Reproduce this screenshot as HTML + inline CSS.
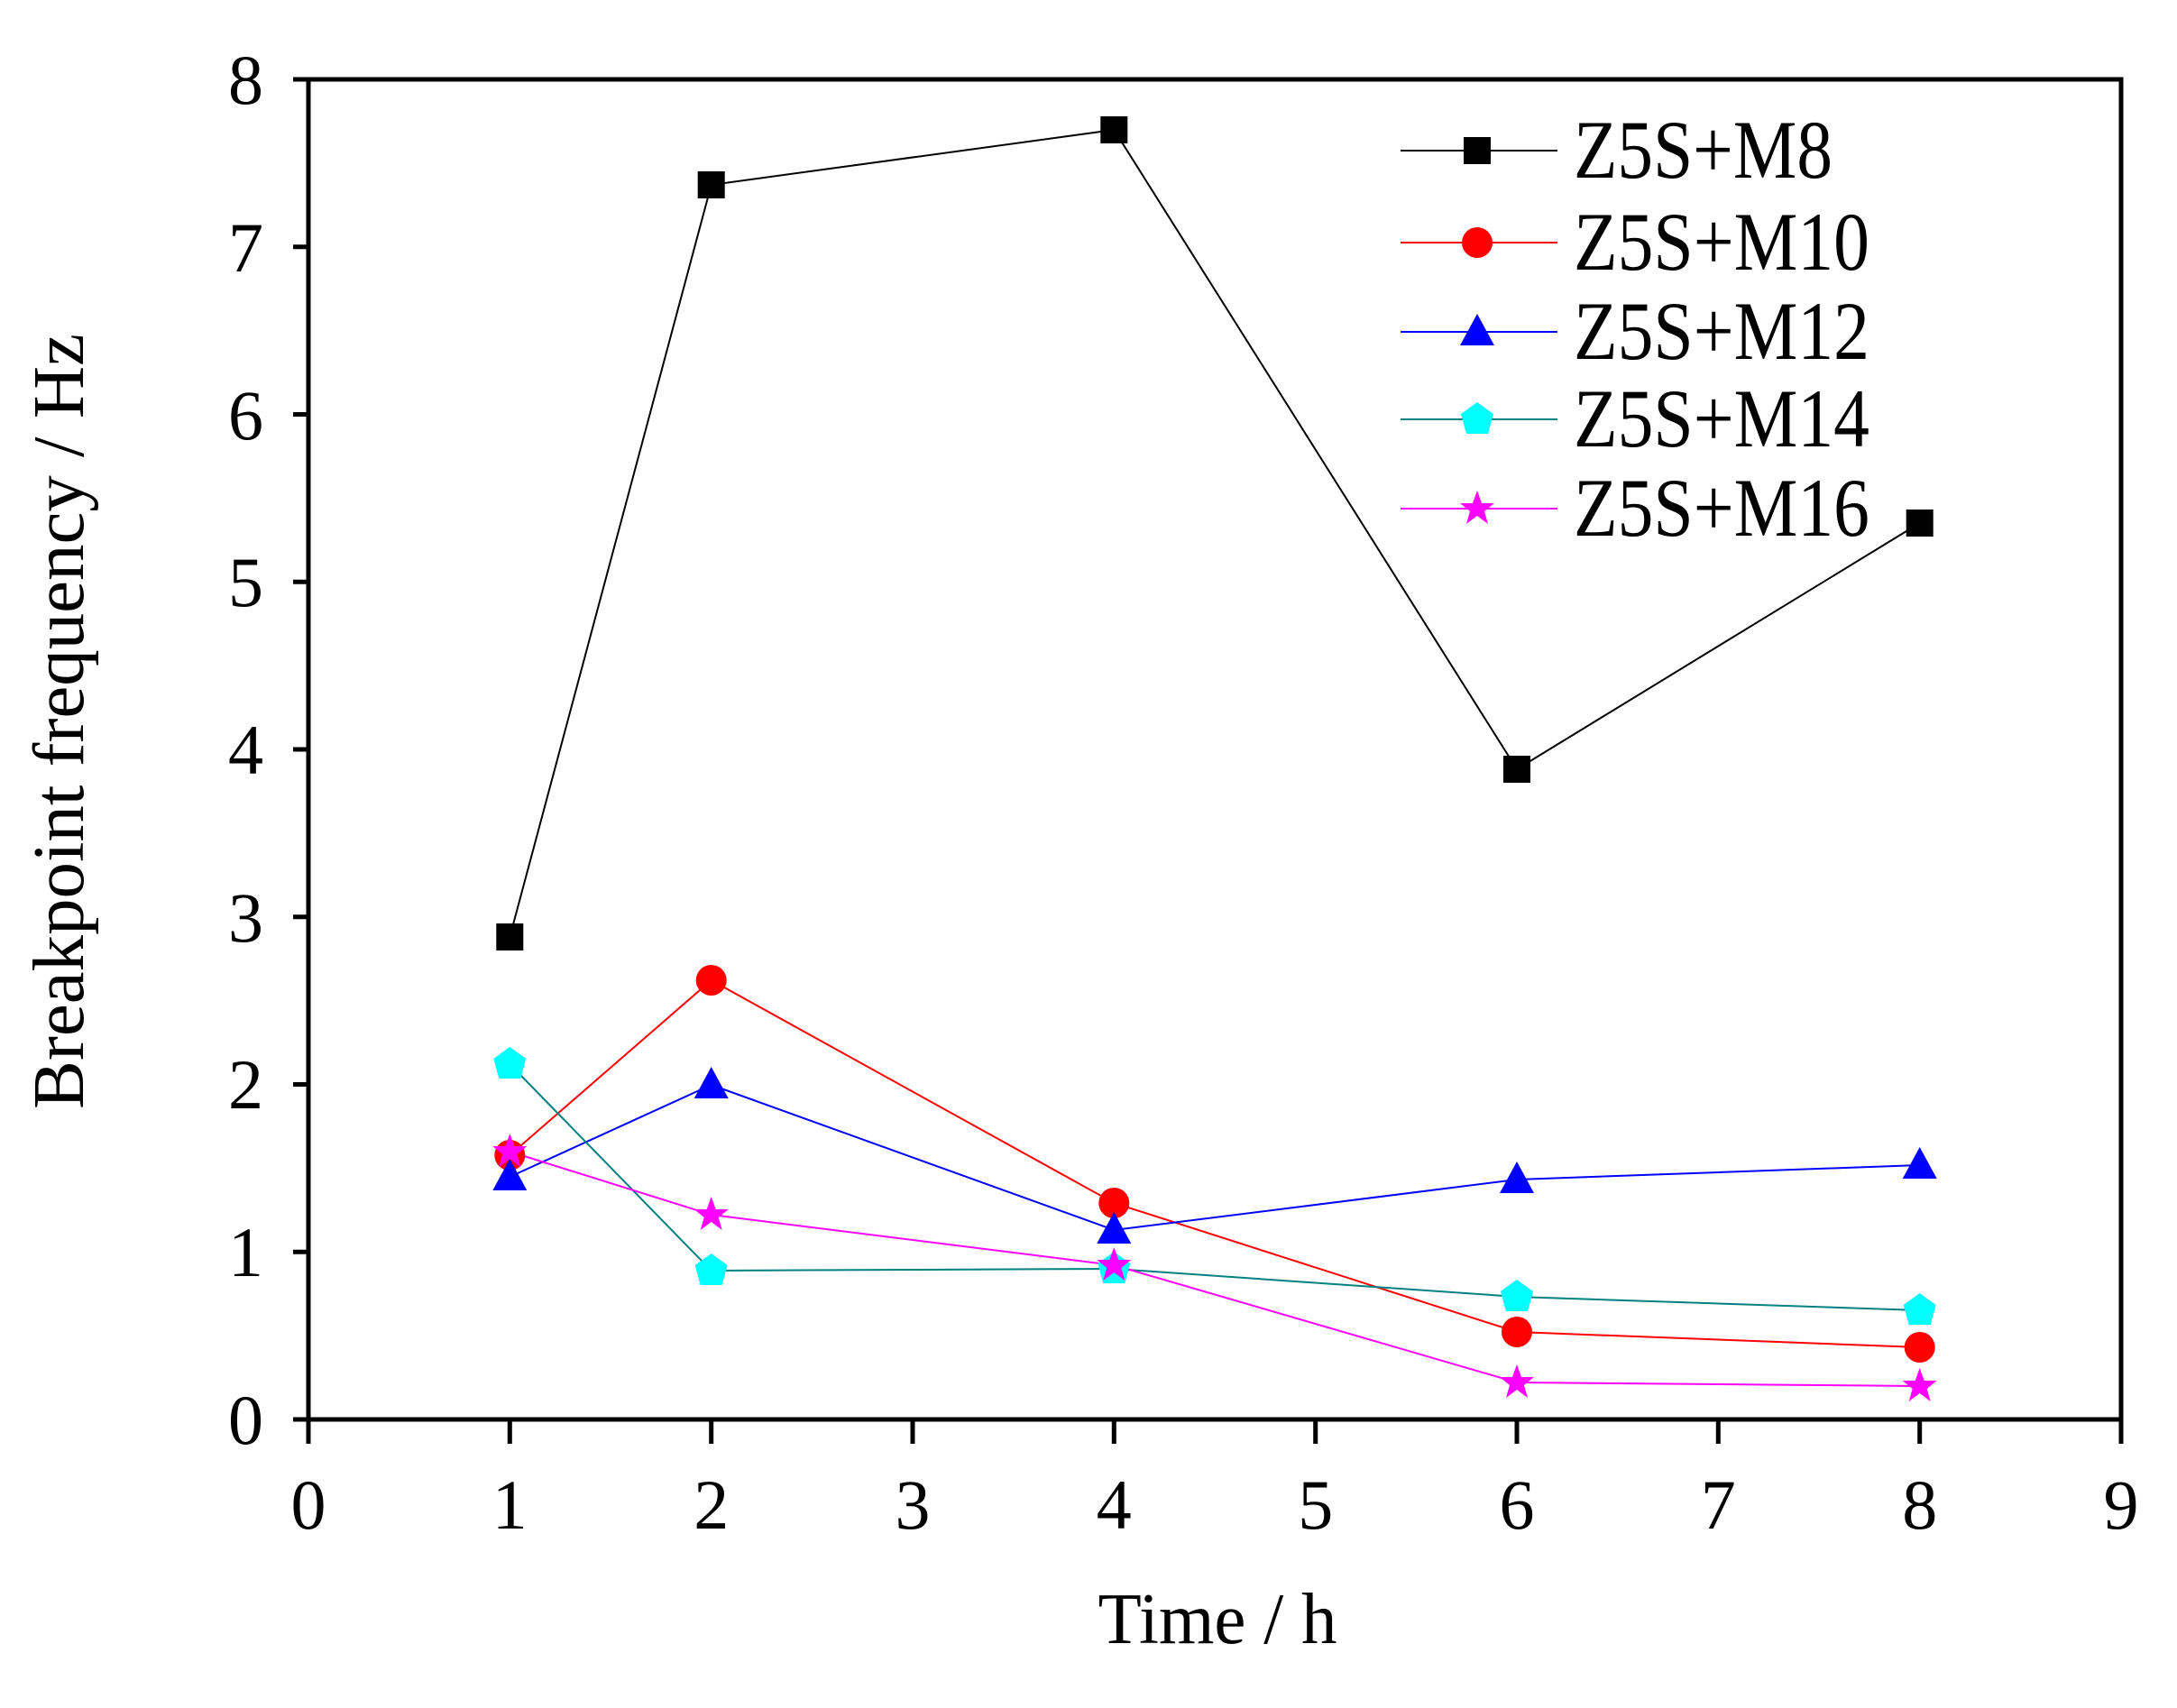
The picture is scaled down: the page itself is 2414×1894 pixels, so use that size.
<!DOCTYPE html>
<html><head><meta charset="utf-8"><style>html,body{margin:0;padding:0;background:#fff}svg{display:block}</style></head>
<body>
<svg width="2414" height="1894" viewBox="0 0 2414 1894" xmlns="http://www.w3.org/2000/svg" font-family="'Liberation Serif',serif">
<rect width="2414" height="1894" fill="#fff"/>
<rect x="342" y="88" width="2010" height="1486" fill="none" stroke="#000" stroke-width="5"/>
<g stroke="#000" stroke-width="5">
<line x1="325" y1="1574" x2="342" y2="1574"/><line x1="325" y1="1388.25" x2="342" y2="1388.25"/>
<line x1="325" y1="1202.5" x2="342" y2="1202.5"/><line x1="325" y1="1016.75" x2="342" y2="1016.75"/>
<line x1="325" y1="831" x2="342" y2="831"/><line x1="325" y1="645.25" x2="342" y2="645.25"/>
<line x1="325" y1="459.5" x2="342" y2="459.5"/><line x1="325" y1="273.75" x2="342" y2="273.75"/>
<line x1="325" y1="88" x2="342" y2="88"/>
<line x1="342" y1="1574" x2="342" y2="1601"/><line x1="565.3" y1="1574" x2="565.3" y2="1601"/>
<line x1="788.7" y1="1574" x2="788.7" y2="1601"/><line x1="1012" y1="1574" x2="1012" y2="1601"/>
<line x1="1235.3" y1="1574" x2="1235.3" y2="1601"/><line x1="1458.7" y1="1574" x2="1458.7" y2="1601"/>
<line x1="1682" y1="1574" x2="1682" y2="1601"/><line x1="1905.3" y1="1574" x2="1905.3" y2="1601"/>
<line x1="2128.7" y1="1574" x2="2128.7" y2="1601"/><line x1="2352" y1="1574" x2="2352" y2="1601"/>
</g>
<g font-size="78" text-anchor="end">
<text x="292" y="1601">0</text><text x="292" y="1415">1</text><text x="292" y="1229">2</text>
<text x="292" y="1044">3</text><text x="292" y="858">4</text><text x="292" y="672">5</text>
<text x="292" y="487">6</text><text x="292" y="301">7</text><text x="292" y="115">8</text>
</g>
<g font-size="78" text-anchor="middle">
<text x="342" y="1695">0</text><text x="565.3" y="1695">1</text><text x="788.7" y="1695">2</text>
<text x="1012" y="1695">3</text><text x="1235.3" y="1695">4</text><text x="1458.7" y="1695">5</text>
<text x="1682" y="1695">6</text><text x="1905.3" y="1695">7</text><text x="2128.7" y="1695">8</text>
<text x="2352" y="1695">9</text>
</g>
<text x="1350" y="1822" font-size="80" text-anchor="middle" textLength="265" lengthAdjust="spacingAndGlyphs">Time / h</text>
<text transform="translate(92,800) rotate(-90)" font-size="80" text-anchor="middle" textLength="860" lengthAdjust="spacingAndGlyphs">Breakpoint frequency / Hz</text>

<polyline fill="none" stroke="#000" stroke-width="2" points="565.3,1039 788.7,205 1235.3,144 1682,853 2128.7,580"/>
<polyline fill="none" stroke="#f00" stroke-width="2" points="565.3,1281 788.7,1087 1235.3,1334 1682,1477 2128.7,1494"/>
<polyline fill="none" stroke="#00f" stroke-width="2" points="565.3,1305 788.7,1203 1235.3,1364 1682,1308 2128.7,1292"/>
<polyline fill="none" stroke="#008080" stroke-width="2" points="565.3,1180 788.7,1409 1235.3,1407 1682,1438 2128.7,1453"/>
<polyline fill="none" stroke="#f0f" stroke-width="2" points="565.3,1277 788.7,1347 1235.3,1403 1682,1533 2128.7,1537"/>

<defs>
<rect id="sq" x="-15" y="-15" width="30" height="30" fill="#000"/>
<circle id="ci" r="17" fill="#f00"/>
<polygon id="tr" points="0,-20 19,15 -19,15" fill="#00f"/>
<polygon id="pe" points="0,-19 18,-6 12,16 -12,16 -18,-6" fill="#0ff"/>
<polygon id="st" points="0,-20 5,-6 19,-6 8,3 12,17 0,8 -12,17 -8,3 -19,-6 -5,-6" fill="#f0f"/>
</defs>
<use href="#sq" x="565.3" y="1039"/><use href="#sq" x="788.7" y="205"/><use href="#sq" x="1235.3" y="144"/><use href="#sq" x="1682" y="853"/><use href="#sq" x="2128.7" y="580"/>
<use href="#ci" x="565.3" y="1281"/><use href="#ci" x="788.7" y="1087"/><use href="#ci" x="1235.3" y="1334"/><use href="#ci" x="1682" y="1477"/><use href="#ci" x="2128.7" y="1494"/>
<use href="#tr" x="565.3" y="1305"/><use href="#tr" x="788.7" y="1203"/><use href="#tr" x="1235.3" y="1364"/><use href="#tr" x="1682" y="1308"/><use href="#tr" x="2128.7" y="1292"/>
<use href="#pe" x="565.3" y="1180"/><use href="#pe" x="788.7" y="1409"/><use href="#pe" x="1235.3" y="1407"/><use href="#pe" x="1682" y="1438"/><use href="#pe" x="2128.7" y="1453"/>
<use href="#st" x="565.3" y="1277"/><use href="#st" x="788.7" y="1347"/><use href="#st" x="1235.3" y="1403"/><use href="#st" x="1682" y="1533"/><use href="#st" x="2128.7" y="1537"/>

<g stroke-width="2">
<line x1="1553" y1="167" x2="1727" y2="167" stroke="#000"/>
<line x1="1553" y1="269" x2="1727" y2="269" stroke="#f00"/>
<line x1="1553" y1="368" x2="1727" y2="368" stroke="#00f"/>
<line x1="1553" y1="465" x2="1727" y2="465" stroke="#008080"/>
<line x1="1553" y1="564" x2="1727" y2="564" stroke="#f0f"/>
</g>
<use href="#sq" x="1638" y="167"/><use href="#ci" x="1638" y="269"/><use href="#tr" x="1638" y="368"/><use href="#pe" x="1638" y="465"/><use href="#st" x="1638" y="564"/>
<g font-size="92">
<text x="1745" y="197" textLength="287" lengthAdjust="spacingAndGlyphs">Z5S+M8</text>
<text x="1745" y="299" textLength="328" lengthAdjust="spacingAndGlyphs">Z5S+M10</text>
<text x="1745" y="398" textLength="328" lengthAdjust="spacingAndGlyphs">Z5S+M12</text>
<text x="1745" y="495" textLength="328" lengthAdjust="spacingAndGlyphs">Z5S+M14</text>
<text x="1745" y="594" textLength="328" lengthAdjust="spacingAndGlyphs">Z5S+M16</text>
</g>
</svg>
</body></html>
